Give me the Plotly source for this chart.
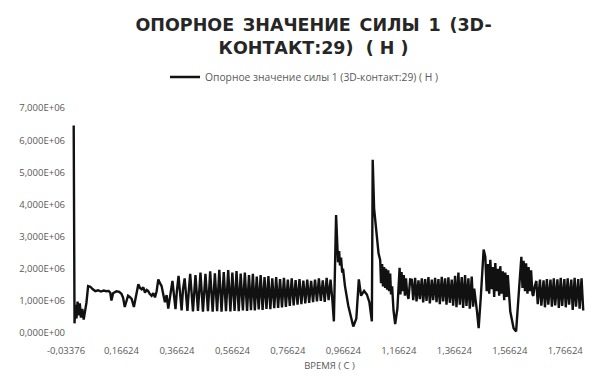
import plotly.graph_objects as go

# Reaction force of contact 3D-контакт:29, time in seconds, force in MN (converted to N below)

# initial impact and settling
start_t = [-0.006, -0.003, 0.000, 0.004, 0.008, 0.012, 0.016, 0.020, 0.025, 0.030,
           0.035, 0.040, 0.046, 0.054, 0.063, 0.072, 0.082, 0.092, 0.102, 0.112,
           0.120, 0.126, 0.130, 0.136, 0.148, 0.158, 0.166, 0.172, 0.178, 0.184,
           0.190, 0.196, 0.203, 0.211, 0.219, 0.227, 0.233, 0.239, 0.245, 0.251,
           0.257, 0.262, 0.268, 0.275, 0.281, 0.287, 0.293, 0.299, 0.305, 0.311,
           0.317, 0.323, 0.329, 0.335]
start_f = [6.46, 0.30, 0.88, 0.45, 0.98, 0.55, 0.92, 0.48, 0.75, 0.42,
           0.68, 0.95, 1.46, 1.44, 1.36, 1.30, 1.33, 1.29, 1.32, 1.30,
           1.31, 1.25, 1.01, 1.24, 1.30, 1.28, 1.22, 1.10, 0.81, 1.02,
           1.16, 1.12, 1.06, 0.81, 1.20, 1.52, 1.40, 1.36, 1.42, 1.26,
           1.34, 1.31, 1.22, 1.16, 1.24, 1.11, 1.30, 1.67, 1.55, 1.46,
           1.20, 0.96, 1.18, 0.76]

# first oscillating stage
band1_t = [0.350, 0.361, 0.366, 0.372, 0.383, 0.388, 0.394, 0.404, 0.409,
           0.414, 0.424, 0.429, 0.433, 0.442, 0.447, 0.451, 0.460, 0.465,
           0.469, 0.478, 0.482, 0.486, 0.495, 0.499, 0.503, 0.511, 0.515,
           0.519, 0.527, 0.531, 0.535, 0.543, 0.547, 0.551, 0.559, 0.563,
           0.566, 0.574, 0.578, 0.581, 0.589, 0.593, 0.596, 0.604, 0.608,
           0.611, 0.619, 0.623, 0.626, 0.633, 0.637, 0.640, 0.647, 0.651,
           0.654, 0.661, 0.665, 0.668, 0.675, 0.679, 0.682, 0.689, 0.693,
           0.696, 0.703, 0.707, 0.710, 0.717, 0.721, 0.724, 0.731, 0.735,
           0.738, 0.745, 0.749, 0.752, 0.759, 0.763, 0.766, 0.773, 0.777,
           0.780, 0.787, 0.791, 0.794, 0.801, 0.805, 0.808, 0.815, 0.819,
           0.822, 0.829, 0.833, 0.836, 0.843, 0.847, 0.850, 0.857, 0.861,
           0.864, 0.871, 0.875, 0.878, 0.885, 0.889, 0.892, 0.899, 0.903,
           0.906, 0.913, 0.917, 0.920, 0.927]
band1_f = [1.62, 0.74, 1.30, 1.78, 0.70, 1.36, 1.70, 0.69, 1.32,
           1.84, 0.67, 1.38, 1.80, 0.69, 1.34, 1.88, 0.66, 1.40,
           1.84, 0.68, 1.36, 1.92, 0.66, 1.42, 1.86, 0.68, 1.38,
           1.97, 0.66, 1.44, 1.90, 0.68, 1.40, 1.96, 0.67, 1.45,
           1.88, 0.69, 1.42, 1.93, 0.68, 1.46, 1.85, 0.70, 1.40,
           1.88, 0.69, 1.44, 1.80, 0.71, 1.40, 1.84, 0.70, 1.45,
           1.76, 0.73, 1.42, 1.80, 0.72, 1.46, 1.74, 0.75, 1.40,
           1.77, 0.74, 1.44, 1.70, 0.77, 1.42, 1.74, 0.78, 1.46,
           1.68, 0.80, 1.40, 1.72, 0.81, 1.44, 1.66, 0.84, 1.42,
           1.70, 0.86, 1.46, 1.65, 0.88, 1.40, 1.68, 0.90, 1.44,
           1.63, 0.92, 1.42, 1.66, 0.94, 1.45, 1.62, 0.96, 1.40,
           1.66, 0.98, 1.44, 1.70, 1.00, 1.42, 1.64, 0.97, 1.45,
           1.72, 1.02, 1.42, 1.66, 0.98]

# two impact peaks
peaks_t = [0.932, 0.940, 0.944, 0.947, 0.951, 0.954, 0.958, 0.962, 0.965, 0.972,
           0.984, 0.996, 1.002, 1.013, 1.022, 1.030, 1.041, 1.051, 1.060, 1.069,
           1.072, 1.077, 1.087, 1.093, 1.099, 1.102, 1.106, 1.109, 1.113, 1.117,
           1.120, 1.124, 1.128, 1.131, 1.135, 1.138, 1.142, 1.147, 1.153, 1.161,
           1.169, 1.172, 1.176, 1.180, 1.184, 1.188, 1.192, 1.196, 1.201, 1.207]
peaks_f = [0.36, 3.67, 2.50, 2.20, 2.55, 2.10, 2.35, 1.88, 2.00, 1.46,
           0.85, 0.36, 0.20, 0.45, 1.67, 1.16, 1.31, 1.20, 0.96, 0.36,
           5.39, 3.88, 2.88, 2.48, 2.27, 1.55, 2.15, 1.45, 2.05, 1.40,
           2.00, 1.35, 1.95, 1.30, 1.85, 1.20, 1.45, 0.70, 0.28, 0.76,
           2.03, 1.20, 1.90, 1.30, 1.80, 1.16, 1.70, 1.25, 1.06, 1.67]

# second oscillating stage
band2_t = [1.213, 1.218, 1.222, 1.225, 1.230, 1.234, 1.237, 1.242, 1.246,
           1.249, 1.254, 1.258, 1.261, 1.266, 1.270, 1.273, 1.278, 1.282,
           1.285, 1.290, 1.294, 1.297, 1.302, 1.306, 1.309, 1.314, 1.318,
           1.321, 1.326, 1.330, 1.333, 1.338, 1.342, 1.345, 1.350, 1.354,
           1.357, 1.362, 1.366, 1.369, 1.374, 1.378, 1.381, 1.386, 1.390,
           1.393, 1.398, 1.402, 1.405, 1.410, 1.414, 1.417, 1.422, 1.426,
           1.429, 1.434, 1.438]
band2_f = [1.66, 1.02, 1.40, 1.72, 0.98, 1.35, 1.64, 1.05, 1.42,
           1.70, 0.95, 1.38, 1.68, 1.00, 1.36, 1.74, 0.92, 1.44,
           1.66, 1.02, 1.38, 1.72, 0.96, 1.40, 1.68, 0.90, 1.34,
           1.75, 0.98, 1.42, 1.70, 0.88, 1.38, 1.73, 0.94, 1.36,
           1.66, 0.85, 1.40, 1.78, 0.80, 1.44, 1.88, 0.88, 1.38,
           1.74, 0.78, 1.40, 1.80, 0.84, 1.36, 1.70, 0.76, 1.42,
           1.76, 0.82, 1.38]

# two unloading dips
dips_t = [1.448, 1.454, 1.462, 1.472, 1.478, 1.483, 1.487, 1.492, 1.496, 1.501,
          1.505, 1.510, 1.514, 1.519, 1.523, 1.528, 1.532, 1.537, 1.541, 1.546,
          1.550, 1.555, 1.559, 1.568, 1.580, 1.589, 1.598, 1.608, 1.612, 1.616,
          1.621, 1.625, 1.630, 1.634, 1.639, 1.643, 1.648, 1.651, 1.656]
dips_f = [0.67, 0.15, 1.16, 2.60, 2.37, 1.30, 2.15, 1.22, 2.28, 1.36,
          2.05, 1.12, 2.18, 1.30, 2.00, 1.16, 2.08, 1.22, 1.92, 1.02,
          1.88, 1.12, 1.80, 0.67, 0.15, 0.05, 1.16, 2.37, 1.40, 2.25,
          1.30, 2.17, 1.22, 2.05, 1.30, 1.95, 1.20, 1.16, 1.45]

# final oscillating stage
band3_t = [1.662, 1.667, 1.671, 1.675, 1.680, 1.684, 1.688, 1.693, 1.697,
           1.700, 1.705, 1.709, 1.713, 1.718, 1.722, 1.725, 1.730, 1.734,
           1.738, 1.743, 1.747, 1.750, 1.755, 1.759, 1.763, 1.768, 1.772,
           1.775, 1.780, 1.784, 1.788, 1.793, 1.797, 1.800, 1.805, 1.809,
           1.813, 1.818, 1.822, 1.825, 1.831]
band3_f = [1.62, 0.90, 1.30, 1.66, 0.85, 1.40, 1.64, 0.80, 1.35,
           1.68, 0.88, 1.42, 1.66, 0.82, 1.38, 1.70, 0.86, 1.36,
           1.67, 0.78, 1.44, 1.72, 0.84, 1.38, 1.68, 0.80, 1.40,
           1.70, 0.88, 1.34, 1.66, 0.72, 1.42, 1.72, 0.82, 1.38,
           1.68, 0.76, 1.40, 1.70, 0.70]

time_s = start_t + band1_t + peaks_t + band2_t + dips_t + band3_t
force_mn = start_f + band1_f + peaks_f + band2_f + dips_f + band3_f
force_n = [v * 1e6 for v in force_mn]

x_tick_vals = [-0.03376, 0.16624, 0.36624, 0.56624, 0.76624, 0.96624,
               1.16624, 1.36624, 1.56624, 1.76624]
x_tick_text = ["-0,03376", "0,16624", "0,36624", "0,56624", "0,76624", "0,96624",
               "1,16624", "1,36624", "1,56624", "1,76624"]
y_tick_vals = [0, 1e6, 2e6, 3e6, 4e6, 5e6, 6e6, 7e6]
y_tick_text = ["0,000E+00", "1,000E+06", "2,000E+06", "3,000E+06",
               "4,000E+06", "5,000E+06", "6,000E+06", "7,000E+06"]

series_name = "Опорное значение силы 1 (3D-контакт:29) ( Н )"
title_text = ("ОПОРНОЕ\u2002ЗНАЧЕНИЕ\u2002СИЛЫ\u20021\u2002(3D-<br>"
              "КОНТАКТ:29)  ( Н )")

tick_font = dict(family="Open Sans, sans-serif", size=9.5, color="#595959")

fig = go.Figure()
fig.add_trace(go.Scatter(
    x=time_s, y=force_n, mode="lines", name=series_name,
    line=dict(color="#111111", width=2.4),
))

fig.update_layout(
    width=603, height=379,
    margin=dict(l=66, r=10, t=104, b=44),
    paper_bgcolor="white", plot_bgcolor="white",
    title=dict(
        text=title_text, x=0.52, xanchor="center", xref="container",
        y=0.917, yanchor="top", yref="container",
        font=dict(family="DejaVu Sans, sans-serif", size=17.5, color="#262626", weight="bold"),
    ),
    showlegend=True,
    legend=dict(
        orientation="h", x=0.505, xanchor="center", xref="container",
        y=0.797, yanchor="middle", yref="container",
        font=dict(family="Open Sans, sans-serif", size=10.3, color="#595959"),
        bgcolor="rgba(0,0,0,0)",
    ),
    xaxis=dict(
        range=[-0.03376, 1.86624], tickmode="array",
        tickvals=x_tick_vals, ticktext=x_tick_text,
        showgrid=False, zeroline=False, showline=False, ticks="",
        tickfont=tick_font, ticklabelstandoff=10,
        title=dict(text="ВРЕМЯ ( С )", font=tick_font, standoff=6),
    ),
    yaxis=dict(
        range=[0, 7e6], tickmode="array",
        tickvals=y_tick_vals, ticktext=y_tick_text,
        showgrid=False, zeroline=False, showline=False, ticks="",
        tickfont=tick_font,
    ),
)

fig.write_html("out.html")
